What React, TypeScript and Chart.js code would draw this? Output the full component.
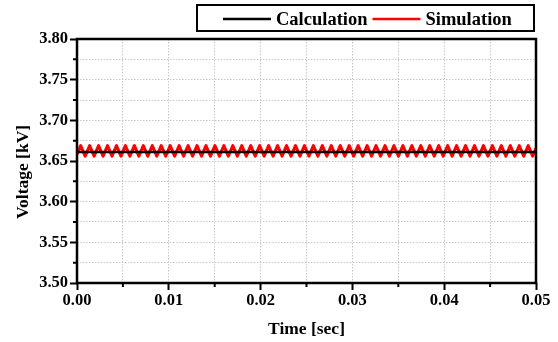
import React, { useEffect, useRef } from 'react';
import { Chart, registerables } from 'chart.js';

Chart.register(...registerables);

const seriesLabels = ['Calculation', 'Simulation'];
const seriesColors = ['#000000', '#ff0000'];

const xTickLabels = ['0.00', '0.01', '0.02', '0.03', '0.04', '0.05'];
const yTickLabels = ['3.50', '3.55', '3.60', '3.65', '3.70', '3.75', '3.80'];

const calcTime = [0, 0.05];
const calcVoltage = [3.661, 3.661];

const simTime = [
  0, 0.0004, 0.000888, 0.001375, 0.001863, 0.00235, 0.002838, 0.003325, 0.003813, 0.0043,
  0.004788, 0.005275, 0.005763, 0.00625, 0.006738, 0.007225, 0.007713, 0.0082, 0.008688, 0.009175,
  0.009663, 0.01015, 0.010638, 0.011125, 0.011613, 0.0121, 0.012588, 0.013075, 0.013563, 0.01405,
  0.014538, 0.015025, 0.015513, 0.016, 0.016488, 0.016975, 0.017463, 0.01795, 0.018438, 0.018925,
  0.019413, 0.0199, 0.020388, 0.020875, 0.021363, 0.02185, 0.022338, 0.022825, 0.023313, 0.0238,
  0.024288, 0.024775, 0.025263, 0.02575, 0.026238, 0.026725, 0.027213, 0.0277, 0.028188, 0.028675,
  0.029163, 0.02965, 0.030138, 0.030625, 0.031113, 0.0316, 0.032088, 0.032575, 0.033063, 0.03355,
  0.034038, 0.034525, 0.035013, 0.0355, 0.035988, 0.036475, 0.036963, 0.03745, 0.037938, 0.038425,
  0.038913, 0.0394, 0.039888, 0.040375, 0.040863, 0.04135, 0.041838, 0.042325, 0.042813, 0.0433,
  0.043788, 0.044275, 0.044763, 0.04525, 0.045738, 0.046225, 0.046713, 0.0472, 0.047688, 0.048175,
  0.048663, 0.04915, 0.049638, 0.05,
];

const simVoltage = [
  3.658, 3.669, 3.656, 3.669, 3.656, 3.669, 3.656, 3.669, 3.656, 3.669,
  3.656, 3.669, 3.656, 3.669, 3.656, 3.669, 3.656, 3.669, 3.656, 3.669,
  3.656, 3.669, 3.656, 3.669, 3.656, 3.669, 3.656, 3.669, 3.656, 3.669,
  3.656, 3.669, 3.656, 3.669, 3.656, 3.669, 3.656, 3.669, 3.656, 3.669,
  3.656, 3.669, 3.656, 3.669, 3.656, 3.669, 3.656, 3.669, 3.656, 3.669,
  3.656, 3.669, 3.656, 3.669, 3.656, 3.669, 3.656, 3.669, 3.656, 3.669,
  3.656, 3.669, 3.656, 3.669, 3.656, 3.669, 3.656, 3.669, 3.656, 3.669,
  3.656, 3.669, 3.656, 3.669, 3.656, 3.669, 3.656, 3.669, 3.656, 3.669,
  3.656, 3.669, 3.656, 3.669, 3.656, 3.669, 3.656, 3.669, 3.656, 3.669,
  3.656, 3.669, 3.656, 3.669, 3.656, 3.669, 3.656, 3.669, 3.656, 3.669,
  3.656, 3.669, 3.656, 3.666,
];

const FONT = '"Liberation Serif", "Times New Roman", serif';

export default function App() {
  const ref = useRef<HTMLCanvasElement>(null);

  useEffect(() => {
    const canvas = ref.current;
    if (!canvas) return;

    const decorPlugin = {
      id: 'decor',
      afterDatasetsDraw(chart: any) {
        const { ctx, chartArea: a, scales } = chart;
        const xs = scales.x;
        const ys = scales.y;
        ctx.save();
        // minor ticks
        ctx.strokeStyle = '#000';
        ctx.lineWidth = 2;
        ctx.beginPath();
        xs.ticks.forEach((t: any, i: number) => {
          if (i % 2 === 1) {
            const p = xs.getPixelForValue(t.value);
            ctx.moveTo(p, a.bottom);
            ctx.lineTo(p, a.bottom + 4);
          }
        });
        ys.ticks.forEach((t: any, i: number) => {
          if (i % 2 === 1) {
            const p = ys.getPixelForValue(t.value);
            ctx.moveTo(a.left - 4, p);
            ctx.lineTo(a.left, p);
          }
        });
        ctx.stroke();
        // frame
        ctx.lineWidth = 2.5;
        ctx.strokeRect(a.left, a.top, a.right - a.left, a.bottom - a.top);
        // legend
        ctx.lineWidth = 2;
        ctx.strokeRect(197, 5, 337, 26);
        ctx.font = `bold 18.5px ${FONT}`;
        ctx.textBaseline = 'middle';
        ctx.textAlign = 'left';
        let x = 223;
        const cy = 19;
        chart.data.datasets.forEach((ds: any) => {
          ctx.strokeStyle = ds.borderColor;
          ctx.lineWidth = 2.5;
          ctx.beginPath();
          ctx.moveTo(x, cy);
          ctx.lineTo(x + 48, cy);
          ctx.stroke();
          x += 53;
          ctx.fillStyle = '#000';
          ctx.fillText(ds.label, x, cy + 1);
          x += ctx.measureText(ds.label).width + 5;
        });
        ctx.restore();
      },
    };

    const tickColor = (c: any) => (c.index % 2 === 0 ? '#000' : 'rgba(0,0,0,0)');

    const chart = new Chart(canvas, {
      type: 'line',
      data: {
        datasets: [
          {
            label: seriesLabels[0],
            data: calcTime.map((t, i) => ({ x: t, y: calcVoltage[i] })),
            borderColor: seriesColors[0],
            backgroundColor: seriesColors[0],
            borderWidth: 2.5,
            pointRadius: 0,
            tension: 0,
          },
          {
            label: seriesLabels[1],
            data: simTime.map((t, i) => ({ x: t, y: simVoltage[i] })),
            borderColor: seriesColors[1],
            backgroundColor: seriesColors[1],
            borderWidth: 3,
            borderJoinStyle: 'round',
            pointRadius: 0,
            tension: 0,
          },
        ],
      },
      options: {
        animation: false,
        responsive: false,
        layout: { padding: { left: 0, right: 22, top: 39, bottom: 0 } },
        plugins: {
          legend: { display: false },
          tooltip: { enabled: false },
        },
        scales: {
          x: {
            type: 'linear',
            min: 0,
            max: 0.05,
            afterFit: (s: any) => {
              s.height = 59;
            },
            border: { display: false, dash: [1.5, 1.5] },
            grid: {
              color: '#c8c8c8',
              lineWidth: 1,
              drawTicks: true,
              tickLength: 7,
              tickWidth: 2,
              tickColor,
            },
            ticks: {
              stepSize: 0.005,
              autoSkip: false,
              maxRotation: 0,
              padding: 1,
              color: '#000',
              font: { family: FONT, size: 16.5, weight: 'bold' },
              callback: (_v: any, i: number) => (i % 2 === 0 ? xTickLabels[i / 2] : ''),
            },
            title: {
              display: true,
              text: 'Time [sec]',
              color: '#000',
              font: { family: FONT, size: 17.5, weight: 'bold' },
              padding: { top: 0, bottom: 2 },
            },
          },
          y: {
            type: 'linear',
            min: 3.5,
            max: 3.8,
            afterFit: (s: any) => {
              s.width = 77;
            },
            border: { display: false, dash: [1.5, 1.5] },
            grid: {
              color: '#c8c8c8',
              lineWidth: 1,
              drawTicks: true,
              tickLength: 7,
              tickWidth: 2,
              tickColor,
            },
            ticks: {
              stepSize: 0.025,
              autoSkip: false,
              padding: 2,
              color: '#000',
              font: { family: FONT, size: 16.5, weight: 'bold' },
              callback: (_v: any, i: number) => (i % 2 === 0 ? yTickLabels[i / 2] : ''),
            },
            title: {
              display: true,
              text: 'Voltage [kV]     ',
              color: '#000',
              font: { family: FONT, size: 17.5, weight: 'bold' },
              padding: { top: 13, bottom: 0 },
            },
          },
        },
      },
      plugins: [decorPlugin],
    } as any);

    return () => chart.destroy();
  }, []);

  return (
    <div style={{ position: 'fixed', left: 0, top: 0, width: 558, height: 342, background: '#fff' }}>
      <canvas ref={ref} width={558} height={342} style={{ display: 'block' }} />
    </div>
  );
}
